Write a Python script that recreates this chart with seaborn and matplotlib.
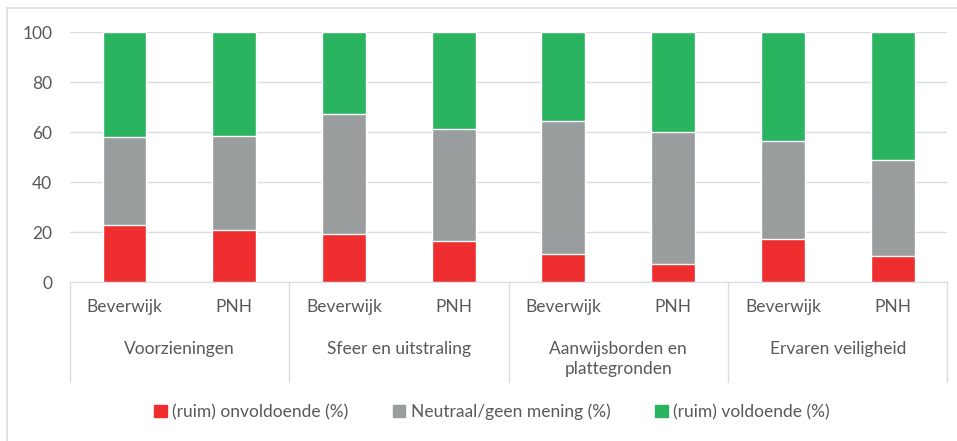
import numpy as np
import pandas as pd
import seaborn as sns
import matplotlib.pyplot as plt
from matplotlib.patches import Patch, Rectangle
from matplotlib.transforms import blended_transform_factory

groups = ["Voorzieningen", "Sfeer en uitstraling", "Aanwijsborden en\nplattegronden", "Ervaren veiligheid"]
subs = ["Beverwijk", "PNH"]
onvoldoende = [23.0, 21.0, 19.1, 16.6, 11.2, 7.4, 17.1, 10.6]
neutraal = [34.9, 37.6, 48.0, 44.5, 53.3, 52.5, 39.5, 38.1]
voldoende = [42.1, 41.4, 32.9, 38.9, 35.5, 40.1, 43.4, 51.3]
series_names = ["(ruim) onvoldoende (%)", "Neutraal/geen mening (%)", "(ruim) voldoende (%)"]
colors = ["#ee2e2e", "#9a9d9d", "#2bb460"]
yticks = [0, 20, 40, 60, 80, 100]

bars = [g + "|" + s for g in groups for s in subs]
df = pd.DataFrame({"bar": bars, "red": onvoldoende, "gray": neutraal, "green": voldoende})
df["c1"] = df["red"]
df["c2"] = df["red"] + df["gray"]
df["c3"] = df["c2"] + df["green"]

sns.set_style("white")
plt.rcParams["font.family"] = ["Lato", "DejaVu Sans"]
txt = "#595959"
line_c = "#d9dde3"
fs = 12.5

fig = plt.figure(figsize=(9.57, 4.41), dpi=100)
ax = fig.add_axes([0.0728, 0.3605, 0.9172, 0.5669])

for col, c in zip(["c3", "c2", "c1"], colors[::-1]):
    sns.barplot(data=df, x="bar", y=col, order=bars, color=c, width=0.4,
                saturation=1, ax=ax, zorder=3)

ax.set_xlim(-0.5, len(bars) - 0.5)
ax.set_ylim(0, 100)
ax.set_yticks(yticks)
ax.set_yticklabels([str(t) for t in yticks], color=txt, fontsize=fs)
ax.tick_params(axis="y", length=0, pad=12.5)
ax.set_xticks([])
ax.set_xlabel("")
ax.set_ylabel("")
ax.grid(axis="y", color=line_c, linewidth=1, zorder=0)
for s in ["top", "right", "left"]:
    ax.spines[s].set_visible(False)
ax.spines["bottom"].set_color(line_c)

tr = blended_transform_factory(ax.transData, ax.transAxes)
for i, b in enumerate(bars):
    ax.text(i, -0.1, b.split("|")[1], transform=tr, ha="center", va="center",
            color=txt, fontsize=fs)
for gi, g in enumerate(groups):
    ax.text(gi * 2 + 0.5, -0.235, g, transform=tr, ha="center", va="top",
            color=txt, fontsize=fs, linespacing=1.35)
for k in range(len(groups) + 1):
    ax.plot([k * 2 - 0.5, k * 2 - 0.5], [0, -0.4], transform=tr, color=line_c,
            linewidth=1, clip_on=False)

handles = [Patch(facecolor=c, edgecolor=c) for c in colors]
fig.legend(handles, series_names, loc="center", bbox_to_anchor=(0.514, 0.066),
           ncol=3, frameon=False, handlelength=0.7, handleheight=0.7,
           handletextpad=0.3, columnspacing=2.6, labelcolor=txt, fontsize=fs)

fig.patches.append(Rectangle((7 / 957, -0.1), 1.2, (433 + 0.1 * 441) / 441 + 0.0,
                             transform=fig.transFigure, fill=False,
                             edgecolor=line_c, linewidth=1.2))
fig.savefig("out.png", dpi=100)
